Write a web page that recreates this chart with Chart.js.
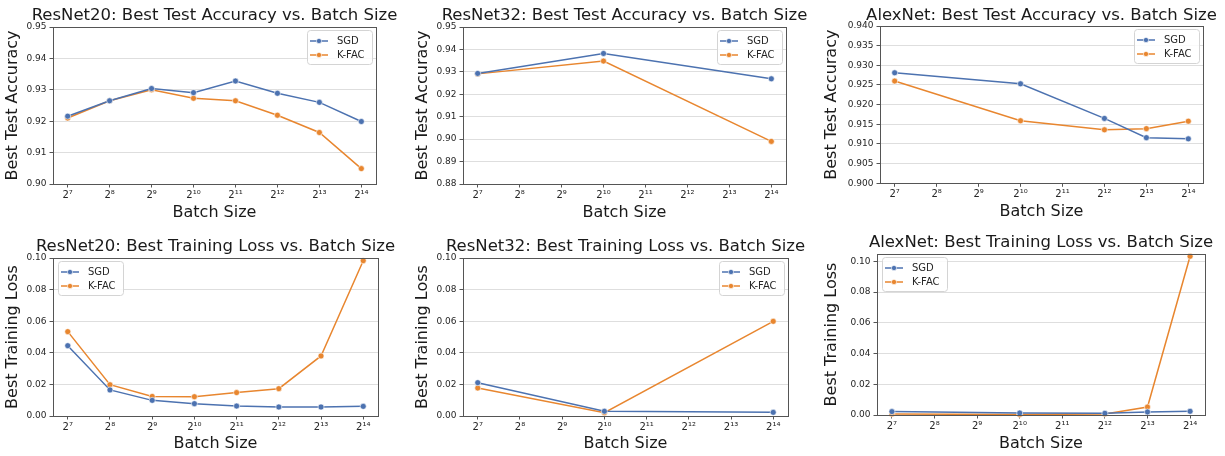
<!DOCTYPE html>
<html>
<head>
<meta charset="utf-8">
<script src="https://cdn.jsdelivr.net/npm/chart.js@4"></script>
<style>
  html, body { margin: 0; padding: 0; background: #fff; width: 1225px; height: 456px; overflow: hidden; }
  .panel { position: absolute; }
</style>
</head>
<body>
<div class="panel" id="p0"><canvas id="c0"></canvas></div>
<div class="panel" id="p1"><canvas id="c1"></canvas></div>
<div class="panel" id="p2"><canvas id="c2"></canvas></div>
<div class="panel" id="p3"><canvas id="c3"></canvas></div>
<div class="panel" id="p4"><canvas id="c4"></canvas></div>
<div class="panel" id="p5"><canvas id="c5"></canvas></div>
<script>
// batch sizes per model
const batchAll = [128, 256, 512, 1024, 2048, 4096, 8192, 16384];
const batchR32 = [128, 1024, 16384];
const batchAlex = [128, 1024, 4096, 8192, 16384];
const xTickLabels = ["2⁷", "2⁸", "2⁹", "2¹⁰", "2¹¹", "2¹²", "2¹³", "2¹⁴"];

// best test accuracy
const r20AccSgd = [0.9216, 0.9265, 0.9304, 0.9291, 0.9328, 0.9289, 0.9260, 0.9199];
const r20AccKfac = [0.9210, 0.9265, 0.9300, 0.9273, 0.9265, 0.9219, 0.9164, 0.9049];
const r32AccSgd = [0.9293, 0.9382, 0.9269];
const r32AccKfac = [0.9291, 0.9348, 0.8990];
const alexAccSgd = [0.9281, 0.9253, 0.9165, 0.9116, 0.9113];
const alexAccKfac = [0.9260, 0.9159, 0.9136, 0.9139, 0.9158];

// best training loss
const r20LossSgd = [0.0445, 0.0165, 0.0099, 0.0078, 0.0063, 0.0057, 0.0057, 0.0061];
const r20LossKfac = [0.0534, 0.0198, 0.0124, 0.0122, 0.0148, 0.0173, 0.0380, 0.0983];
const r32LossSgd = [0.0211, 0.0030, 0.0023];
const r32LossKfac = [0.0177, 0.0021, 0.0599];
const alexLossSgd = [0.0022, 0.0013, 0.0011, 0.0020, 0.0024];
const alexLossKfac = [0.0007, 0.0004, 0.0006, 0.0052, 0.1033];

// y tick values
const accTicksR20 = [0.90, 0.91, 0.92, 0.93, 0.94, 0.95];
const accTicksR32 = [0.88, 0.89, 0.90, 0.91, 0.92, 0.93, 0.94, 0.95];
const accTicksAlex = [0.900, 0.905, 0.910, 0.915, 0.920, 0.925, 0.930, 0.935, 0.940];
const lossTicks = [0.00, 0.02, 0.04, 0.06, 0.08, 0.10];

const SGD_COLOR = "#4c72b0";
const KFAC_COLOR = "#e8862f";
const FONT = "'DejaVu Sans', sans-serif";

const panels = [
  { title: "ResNet20: Best Test Accuracy vs. Batch Size", ylabel: "Best Test Accuracy",
    batch: batchAll, sgd: r20AccSgd, kfac: r20AccKfac, ticks: accTicksR20, ymin: 0.90, ymax: 0.95, dec: 2, legend: "ur",
    left: 0, top: 0, chartL: 53, chartR: 376, chartT: 27, chartB: 184, titleC: 15.5, xlabC: 212.8, ylabC: 12.5 },
  { title: "ResNet32: Best Test Accuracy vs. Batch Size", ylabel: "Best Test Accuracy",
    batch: batchR32, sgd: r32AccSgd, kfac: r32AccKfac, ticks: accTicksR32, ymin: 0.88, ymax: 0.95, dec: 2, legend: "ur",
    left: 410, top: 0, chartL: 463, chartR: 786, chartT: 27, chartB: 184, titleC: 15.5, xlabC: 212.8, ylabC: 12.5 },
  { title: "AlexNet: Best Test Accuracy vs. Batch Size", ylabel: "Best Test Accuracy",
    batch: batchAlex, sgd: alexAccSgd, kfac: alexAccKfac, ticks: accTicksAlex, ymin: 0.90, ymax: 0.94, dec: 3, legend: "ur",
    left: 815, top: 0, chartL: 880, chartR: 1203, chartT: 26, chartB: 183.3, titleC: 15.5, xlabC: 211.8, ylabC: 16.7 },
  { title: "ResNet20: Best Training Loss vs. Batch Size", ylabel: "Best Training Loss",
    batch: batchAll, sgd: r20LossSgd, kfac: r20LossKfac, ticks: lossTicks, ymin: 0, ymax: 0.10, dec: 2, legend: "ul",
    left: 0, top: 228, chartL: 53, chartR: 378, chartT: 30, chartB: 188, titleC: 18.3, xlabC: 216.2, ylabC: 12.5 },
  { title: "ResNet32: Best Training Loss vs. Batch Size", ylabel: "Best Training Loss",
    batch: batchR32, sgd: r32LossSgd, kfac: r32LossKfac, ticks: lossTicks, ymin: 0, ymax: 0.10, dec: 2, legend: "ur",
    left: 410, top: 228, chartL: 463, chartR: 788, chartT: 30, chartB: 188, titleC: 18.3, xlabC: 216.2, ylabC: 12.5 },
  { title: "AlexNet: Best Training Loss vs. Batch Size", ylabel: "Best Training Loss",
    batch: batchAlex, sgd: alexLossSgd, kfac: alexLossKfac, ticks: lossTicks, ymin: 0, ymax: 0.1048, dec: 2, legend: "ul",
    left: 815, top: 228, chartL: 877, chartR: 1205, chartT: 26, chartB: 187, titleC: 15, xlabC: 216.2, ylabC: 16.7 },
];

const H = 228;
const HALF = 9.6;        // half line height of the 16px axis labels
const TITLE_SIZE = 16.5;
const TITLE_HALF = TITLE_SIZE * 0.6;

// matplotlib-like frame around the axes
const framePlugin = {
  id: "frame",
  afterDatasetsDraw(chart) {
    const { ctx, chartArea: a } = chart;
    ctx.save();
    ctx.strokeStyle = "#555";
    ctx.lineWidth = 1;
    ctx.strokeRect(Math.round(a.left) + 0.5, Math.round(a.top) + 0.5,
      Math.round(a.right - a.left), Math.round(a.bottom - a.top));
    ctx.restore();
  },
};

// framed legend with line + marker, inside the axes
const boxLegend = {
  id: "boxLegend",
  afterDraw(chart, args, opts) {
    const { ctx, chartArea: a } = chart;
    const w = 65, h = 34;
    const x = opts.where === "ul" ? a.left + 5 : a.right - 4 - w;
    const y = a.top + 3;
    ctx.save();
    ctx.beginPath();
    ctx.roundRect(x + 0.5, y + 0.5, w, h, 3);
    ctx.fillStyle = "rgba(255,255,255,0.85)";
    ctx.fill();
    ctx.strokeStyle = "#d4d4d4";
    ctx.lineWidth = 1;
    ctx.stroke();
    chart.data.datasets.forEach((ds, i) => {
      const ry = y + 11 + i * 14;
      ctx.strokeStyle = ds.borderColor;
      ctx.lineWidth = 1.5;
      ctx.beginPath();
      ctx.moveTo(x + 3, ry);
      ctx.lineTo(x + 21, ry);
      ctx.stroke();
      ctx.beginPath();
      ctx.arc(x + 12, ry, 2.6, 0, Math.PI * 2);
      ctx.fillStyle = ds.borderColor;
      ctx.fill();
      ctx.strokeStyle = "#fff";
      ctx.lineWidth = 0.6;
      ctx.stroke();
      ctx.fillStyle = "#262626";
      ctx.font = "10px " + FONT;
      ctx.textBaseline = "middle";
      ctx.fillText(ds.label, x + 30, ry + 0.5);
    });
    ctx.restore();
  },
};

function series(label, color, batch, vals) {
  return {
    label,
    data: batch.map((b, i) => ({ x: Math.log2(b), y: vals[i] })),
    borderColor: color,
    backgroundColor: color,
    borderWidth: 1.5,
    pointRadius: 3,
    pointBackgroundColor: color,
    pointBorderColor: "#fff",
    pointBorderWidth: 0.6,
    tension: 0,
    clip: false,
  };
}

panels.forEach((p, k) => {
  const w = p.chartL + p.chartR - 2 * p.left;
  const rightPad = w - (p.chartR - p.left);
  const div = document.getElementById("p" + k);
  div.style.left = p.left + "px";
  div.style.top = p.top + "px";
  const canvas = document.getElementById("c" + k);
  canvas.width = w;
  canvas.height = H;

  new Chart(canvas.getContext("2d"), {
    type: "line",
    data: {
      datasets: [
        series("SGD", SGD_COLOR, p.batch, p.sgd),
        series("K-FAC", KFAC_COLOR, p.batch, p.kfac),
      ],
    },
    options: {
      responsive: false,
      animation: false,
      layout: { padding: 0 },
      plugins: {
        legend: { display: false },
        tooltip: { enabled: false },
        boxLegend: { where: p.legend },
        title: {
          display: true,
          text: p.title,
          color: "#1a1a1a",
          font: { family: FONT, size: TITLE_SIZE, weight: "normal", lineHeight: 1.2 },
          padding: { top: p.titleC - TITLE_HALF, bottom: Math.max(0, p.chartT - p.titleC - TITLE_HALF) },
        },
      },
      scales: {
        x: {
          type: "linear",
          min: 6.65,
          max: 14.35,
          afterBuildTicks: (s) => { s.ticks = batchAll.map((b) => ({ value: Math.log2(b) })); },
          afterFit: (s) => { s.height = H - p.chartB; },
          ticks: {
            autoSkip: false,
            maxRotation: 0,
            padding: 2,
            color: "#262626",
            font: { family: FONT, size: 10 },
            callback: (v) => xTickLabels[batchAll.findIndex((b) => Math.log2(b) === v)],
          },
          grid: { drawOnChartArea: false, drawTicks: true, tickLength: 3.5, tickColor: "#555" },
          border: { display: false },
          title: {
            display: true,
            text: "Batch Size",
            color: "#1a1a1a",
            font: { family: FONT, size: 16, lineHeight: 1.2 },
            padding: { top: 0, bottom: H - p.xlabC - HALF },
          },
        },
        y: {
          type: "linear",
          min: p.ymin,
          max: p.ymax,
          afterBuildTicks: (s) => { s.ticks = p.ticks.map((v) => ({ value: v })); },
          afterFit: (s) => { s.width = p.chartL - p.left; },
          ticks: {
            padding: 3,
            color: "#262626",
            font: { family: FONT, size: 9 },
            callback: (v) => Number(v).toFixed(p.dec),
          },
          grid: { color: "#dedede", lineWidth: 1, tickLength: 3.5, tickColor: "#555" },
          border: { display: false },
          title: {
            display: true,
            text: p.ylabel,
            color: "#1a1a1a",
            font: { family: FONT, size: 16, lineHeight: 1.2 },
            padding: { top: p.ylabC - HALF, bottom: 0 },
          },
        },
        // empty axis on the right so the title centres over the plot area
        spacer: {
          type: "linear",
          position: "right",
          afterFit: (s) => { s.width = rightPad; },
          ticks: { display: false },
          grid: { display: false },
          border: { display: false },
        },
      },
    },
    plugins: [framePlugin, boxLegend],
  });
});
</script>
</body>
</html>
